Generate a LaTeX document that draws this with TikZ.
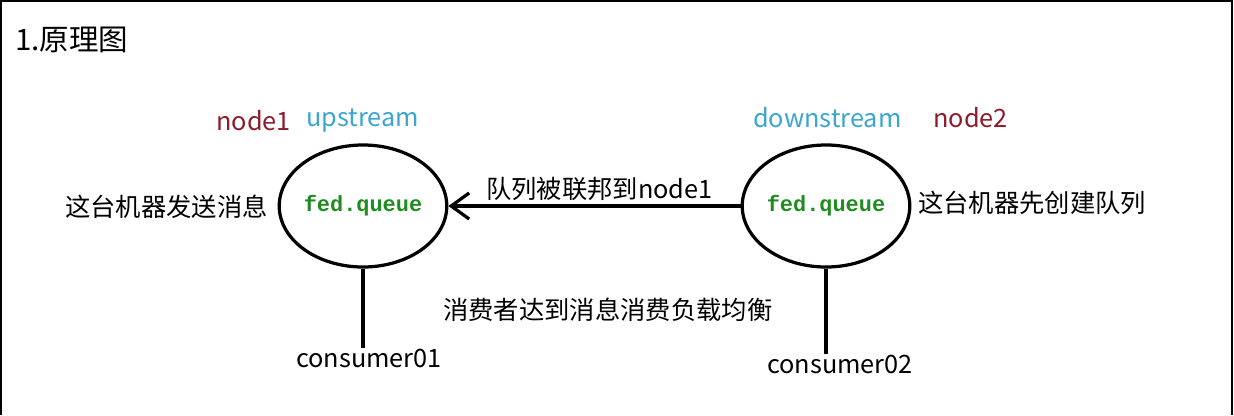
\documentclass[tikz,border=0pt]{standalone}
\usepackage{fontspec}
\setmainfont{Noto Sans CJK SC}
\setmonofont{Liberation Mono}
\usetikzlibrary{shapes.geometric,arrows.meta}
\definecolor{nodered}{HTML}{8B1C2C}
\definecolor{streamblue}{HTML}{3AA6D0}
\definecolor{queuegreen}{HTML}{1E8C1E}

\begin{document}
\begin{tikzpicture}[x=0.025cm,y=-0.025cm,
    txt/.style={font=\fontsize{18}{20}\selectfont,inner sep=0pt},
    queue/.style={ellipse,draw,line width=2.3pt,minimum width=3.95cm,minimum height=3.05cm,
      inner sep=0pt,text=queuegreen,font=\fontsize{15.6}{18}\selectfont\ttfamily\bfseries},
    link/.style={line width=2.3pt}]
  \useasboundingbox (0,0) rectangle (1234,415);
  \draw[line width=1.4pt] (1,415) -- (1,1) -- (1232,1) -- (1232,415);

  \node[anchor=west,inner sep=0pt,font=\fontsize{21}{24}\selectfont] (title) at (15,40) {1.原理图};

  % the two queues
  \node[queue] (up) at (363,206) {fed.queue};
  \node[queue] (down) at (826,206) {fed.queue};

  \node[txt,anchor=west,text=nodered] (name1) at (216,121) {node1};
  \node[txt,anchor=west,text=streamblue] (upname) at (306,121) {upstream};
  \node[txt,anchor=west,text=streamblue] (downname) at (753,118) {downstream};
  \node[txt,anchor=west,text=nodered] (name2) at (933,118) {node2};

  \node[txt,anchor=east] (send) at (268,207) {这台机器发送消息};
  \node[txt,anchor=west] (create) at (918,203) {这台机器先创建队列};

  \draw[link,-{Straight Barb[length=4.5mm,width=6.5mm,line width=2.3pt]}] (down) -- (up);
  \node[txt,anchor=west] (fedlabel) at (486,189) {队列被联邦到node1};

  % consumers
  \node[txt] (c1) at (369,358) {consumer01};
  \node[txt] (c2) at (840,364) {consumer02};
  \draw[link] (up.south) -- (up.south |- c1.north);
  \draw[link] (down.south) -- (down.south |- c2.north);

  \node[txt,anchor=west] (balance) at (443,310) {消费者达到消息消费负载均衡};
\end{tikzpicture}
\end{document}
